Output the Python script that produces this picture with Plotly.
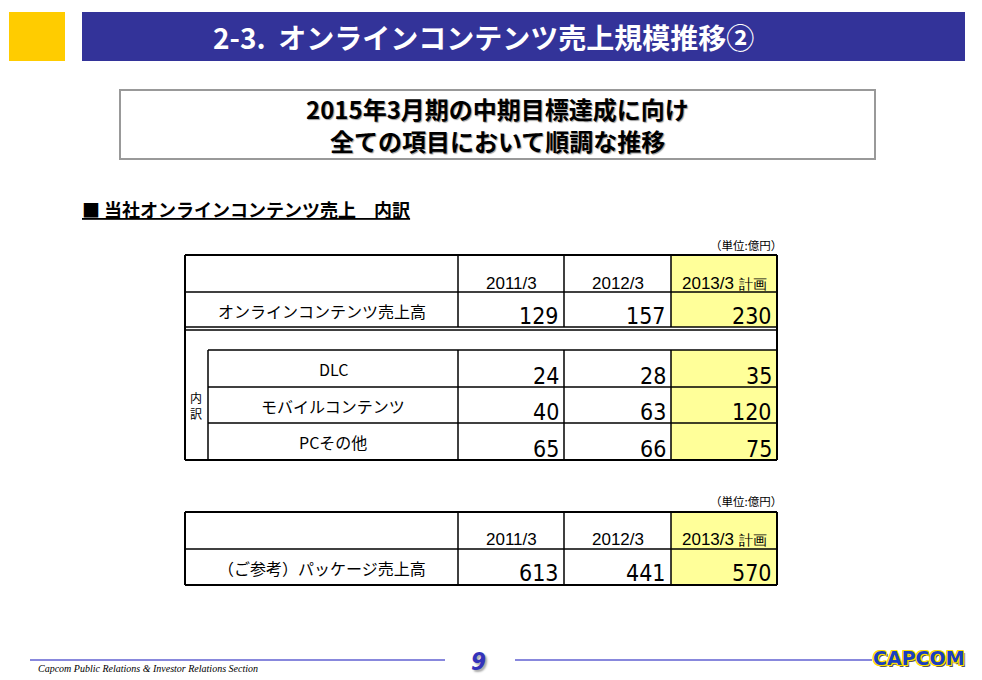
import plotly.graph_objects as go

# ---------------- data ----------------
years = ["2011/3", "2012/3", "2013/3 計画"]
total_label = "オンラインコンテンツ売上高"
online_total = [129, 157, 230]
breakdown_labels = ["DLC", "モバイルコンテンツ", "PCその他"]
dlc = [24, 28, 35]
mobile = [40, 63, 120]
pc_other = [65, 66, 75]
package_label = "（ご参考）パッケージ売上高"
package = [613, 441, 570]
unit_label = "（単位:億円）"
title_text = "2-3.  オンラインコンテンツ売上規模推移②"
message_lines = ["2015年3月期の中期目標達成に向け", "全ての項目において順調な推移"]
section_text = "■ 当社オンラインコンテンツ売上　内訳"
footer_text = "Capcom Public Relations & Investor Relations Section"
page_no = "9"

# ---------------- style / layout ----------------
W, H = 982, 680
JP = "Noto Sans CJK JP, Noto Sans, sans-serif"
NUM = "DejaVu Sans Condensed, Liberation Sans Narrow, Arial Narrow, Liberation Sans, sans-serif"
HDR = "Liberation Sans, Arial, sans-serif"
BLUE = "#333399"
YELLOW = "#FFFF99"

shapes = []
ann = []


def rect(x0, y0, x1, y1, fill=None, line=None, lw=0):
    shapes.append(dict(type="rect", xref="x", yref="y", x0=x0, y0=y0, x1=x1, y1=y1,
                       fillcolor=fill if fill else "rgba(0,0,0,0)",
                       line=dict(color=line if line else "rgba(0,0,0,0)", width=lw),
                       layer="below"))


def line(x0, y0, x1, y1, color="#000", lw=1.5):
    shapes.append(dict(type="line", xref="x", yref="y", x0=x0, y0=y0, x1=x1, y1=y1,
                       line=dict(color=color, width=lw), layer="above"))


def text(x, y, s, size=14, color="#000", family=JP, xa="center", ya="middle", **kw):
    ann.append(dict(x=x, y=y, xref="x", yref="y", text=s, showarrow=False,
                    xanchor=xa, yanchor=ya,
                    font=dict(size=size, color=color, family=family, **kw)))


def year_label(s):
    parts = s.split(" ", 1)
    if len(parts) == 2:
        return parts[0] + " <span style='font-size:14px'>" + parts[1] + "</span>"
    return s


# header bar
rect(9, 12, 65, 61, fill="#FFCC00")
rect(82, 12, 965, 61, fill=BLUE)
text(483, 37, "<b>" + title_text + "</b>", size=28, color="white")

# message box
rect(120, 90, 875, 159, fill="white", line="#999999", lw=2)
text(497, 108, "<b>" + message_lines[0] + "</b>", size=24, shadow="1px 1px 1px #999")
text(497, 140, "<b>" + message_lines[1] + "</b>", size=24, shadow="1px 1px 1px #999")

# section heading
text(80, 209, "<b><u>" + section_text + "</u></b>", size=18, xa="left")

# ---------------- table 1 ----------------
xe = [185, 458, 564, 671, 777]
sub_x = 208
ty = [255, 292, 327]          # header / total row
gap = [330, 350]              # blank row
ry = [350, 387, 423, 460]     # breakdown rows

rect(xe[3], ty[0], xe[4], ty[2], fill=YELLOW)
rect(xe[3], ry[0], xe[4], ry[-1], fill=YELLOW)

OUT, INN = 2, 1.5
line(xe[0], ty[0], xe[4], ty[0], lw=OUT)
line(xe[0], ty[1], xe[4], ty[1], lw=INN)
line(xe[0], ty[2], xe[4], ty[2], lw=INN)
line(xe[0], gap[0], xe[4], gap[0], lw=INN)
line(xe[0], ty[0], xe[0], ry[-1], lw=OUT)
line(xe[4], ty[0], xe[4], ry[-1], lw=OUT)
for xv in xe[1:4]:
    line(xv, ty[0], xv, ty[2], lw=INN)
for yv in ry:
    line(sub_x, yv, xe[4], yv, lw=INN)
line(xe[0], ry[-1], xe[4], ry[-1], lw=OUT)
line(sub_x, ry[0], sub_x, ry[-1], lw=INN)
for xv in xe[1:4]:
    line(xv, ry[0], xv, ry[-1], lw=INN)

text(xe[4] + 7, 245, unit_label, size=11.5, xa="right")
for i, yr in enumerate(years):
    cx = (xe[i + 1] + xe[i + 2]) / 2
    text(cx, 283, year_label(yr), size=17, family=HDR)
text((xe[0] + xe[1]) / 2, 311, total_label, size=16)
for i, v in enumerate(online_total):
    text(xe[i + 2] - 3, 316, str(v), size=23, family=NUM, xa="right")

text(196, 397, "内", size=12)
text(196, 413, "訳", size=12)
rows = [dlc, mobile, pc_other]
for r, (lab, vals) in enumerate(zip(breakdown_labels, rows)):
    y0, y1 = ry[r], ry[r + 1]
    text((sub_x + xe[1]) / 2, y0 + 19, lab, size=16)
    for i, v in enumerate(vals):
        text(xe[i + 2] - 3, y1 - 11, str(v), size=23, family=NUM, xa="right")

# ---------------- table 2 ----------------
py = [512, 549, 585]
rect(xe[3], py[0], xe[4], py[2], fill=YELLOW)
line(xe[0], py[0], xe[4], py[0], lw=OUT)
line(xe[0], py[1], xe[4], py[1], lw=INN)
line(xe[0], py[2], xe[4], py[2], lw=OUT)
line(xe[0], py[0], xe[0], py[2], lw=OUT)
line(xe[4], py[0], xe[4], py[2], lw=OUT)
for xv in xe[1:4]:
    line(xv, py[0], xv, py[2], lw=INN)
text(xe[4] + 7, 501, unit_label, size=11.5, xa="right")
for i, yr in enumerate(years):
    cx = (xe[i + 1] + xe[i + 2]) / 2
    text(cx, 539, year_label(yr), size=17, family=HDR)
text((xe[0] + xe[1]) / 2, 568, package_label, size=16)
for i, v in enumerate(package):
    text(xe[i + 2] - 3, 573, str(v), size=23, family=NUM, xa="right")

# ---------------- footer ----------------
line(30, 660, 445, 660, color="#8888DD", lw=2)
line(515, 660, 872, 660, color="#8888DD", lw=2)
text(478, 662, "<b><i>" + page_no + "</i></b>", size=24, color="#3333BB",
     family=NUM, shadow="2px 2px 2px #aaa")
text(36, 668, "<i>" + footer_text + "</i>", size=10, family="Liberation Serif, serif", xa="left")
logo_shadow = ("1px 0 0 #FFE000, -1px 0 0 #FFE000, 0 1px 0 #FFE000, 0 -1px 0 #FFE000, "
               "1px 1px 0 #FFE000, -1px -1px 0 #FFE000, 1px -1px 0 #FFE000, -1px 1px 0 #FFE000, "
               "2px 2px 0 #555")
text(919, 658, "<b>CAPCOM</b>", size=19, color="#1A3FBF", family="DejaVu Sans, sans-serif",
     shadow=logo_shadow)

fig = go.Figure()
fig.add_trace(go.Scatter(x=[0], y=[0], mode="markers", marker=dict(opacity=0),
                         hoverinfo="skip", showlegend=False))
fig.update_layout(
    width=W, height=H, margin=dict(l=0, r=0, t=0, b=0),
    paper_bgcolor="white", plot_bgcolor="white",
    xaxis=dict(range=[0, W], visible=False, fixedrange=True),
    yaxis=dict(range=[H, 0], visible=False, fixedrange=True),
    shapes=shapes, annotations=ann, showlegend=False,
)
fig.write_html("out.html", config={"displayModeBar": False},
               post_script="document.body.style.margin='0';document.body.style.overflow='hidden';")
